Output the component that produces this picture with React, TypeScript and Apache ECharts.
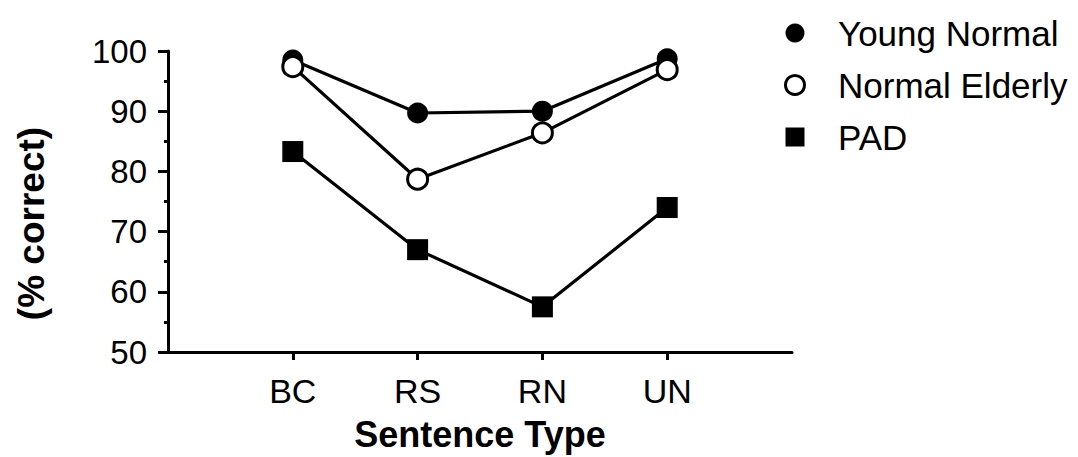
import React, { useEffect, useRef } from "react";
import * as echarts from "echarts";

// Sentence types along the x axis
const categories = ["BC", "RS", "RN", "UN"];

// Percent correct for each group
const youngNormal = [98.5, 89.7, 90.0, 98.7];
const normalElderly = [97.4, 78.7, 86.4, 96.9];
const pad = [83.3, 67.0, 57.5, 74.0];

const seriesNames = ["Young Normal", "Normal Elderly", "PAD"];

const FONT = "'Liberation Sans', Arial, Helvetica, sans-serif";

// square legend glyph that keeps its aspect ratio inside the wide icon box
const SQUARE_ICON = "path://M0 0H10V10H0Z";

export default function App() {
  const ref = useRef<HTMLDivElement>(null);

  useEffect(() => {
    if (!ref.current) return;
    const chart = echarts.init(ref.current, undefined, { renderer: "svg" });

    // blank slots at both ends give the axis its padding on either side
    const axisData = ["", ...categories, ""];
    const pairs = (vals: number[]) => categories.map((c, i) => [c, vals[i]]);

    const lineStyle = { color: "#000", width: 3.2 };

    chart.setOption({
      animation: false,
      backgroundColor: "#fff",
      textStyle: { fontFamily: FONT, color: "#000" },
      grid: { left: 168, right: 286, top: 51, bottom: 99 },
      legend: {
        orient: "vertical",
        left: 779,
        top: 10,
        itemWidth: 76,
        itemHeight: 19,
        itemGap: 16,
        symbolKeepAspect: true,
        selectedMode: false,
        textStyle: { fontFamily: FONT, fontSize: 35, color: "#000", lineHeight: 36 },
        data: [
          { name: seriesNames[0], icon: "circle", itemStyle: { color: "#000", borderWidth: 0 } },
          {
            name: seriesNames[1],
            icon: "circle",
            itemStyle: { color: "#fff", borderColor: "#000", borderWidth: 3 },
          },
          { name: seriesNames[2], icon: SQUARE_ICON, itemStyle: { color: "#000", borderWidth: 0 } },
        ],
      },
      xAxis: {
        type: "category",
        data: axisData,
        boundaryGap: false,
        name: "Sentence Type",
        nameLocation: "middle",
        nameGap: 64,
        nameTextStyle: { fontFamily: FONT, fontSize: 36, fontWeight: "bold", color: "#000" },
        axisLine: { lineStyle: { color: "#000", width: 3 } },
        axisTick: {
          show: true,
          inside: false,
          length: 8,
          lineStyle: { color: "#000", width: 3 },
          interval: (index: number) => index > 0 && index < axisData.length - 1,
        },
        axisLabel: {
          fontFamily: FONT,
          fontSize: 34,
          color: "#000",
          margin: 22,
          interval: 0,
        },
        splitLine: { show: false },
      },
      yAxis: {
        type: "value",
        min: 50,
        max: 100,
        interval: 10,
        name: "(% correct)",
        nameLocation: "middle",
        nameRotate: 90,
        nameGap: 118,
        nameTextStyle: {
          fontFamily: FONT,
          fontSize: 37,
          fontWeight: "bold",
          color: "#000",
          padding: [0, 44, 0, 0],
        },
        axisLine: { show: true, lineStyle: { color: "#000", width: 3 } },
        axisTick: { show: true, inside: false, length: 10, lineStyle: { color: "#000", width: 3 } },
        minorTick: { show: true, splitNumber: 2, length: 4, lineStyle: { color: "#000", width: 3 } },
        axisLabel: { fontFamily: FONT, fontSize: 33, color: "#000", margin: 21, padding: [5, 0, 0, 0] },
        splitLine: { show: false },
      },
      series: [
        {
          name: seriesNames[0],
          type: "line",
          data: pairs(youngNormal),
          symbol: "circle",
          symbolSize: 21,
          lineStyle,
          itemStyle: { color: "#000" },
          z: 2,
        },
        {
          name: seriesNames[1],
          type: "line",
          data: pairs(normalElderly),
          symbol: "circle",
          symbolSize: 20,
          lineStyle,
          itemStyle: { color: "#fff", borderColor: "#000", borderWidth: 3 },
          z: 3,
        },
        {
          name: seriesNames[2],
          type: "line",
          data: pairs(pad),
          symbol: "rect",
          symbolSize: 21,
          lineStyle,
          itemStyle: { color: "#000" },
          z: 2,
        },
      ],
    });

    return () => chart.dispose();
  }, []);

  return (
    <div
      ref={ref}
      style={{ position: "fixed", left: 0, top: 0, width: 1078, height: 457, background: "#fff" }}
    />
  );
}
